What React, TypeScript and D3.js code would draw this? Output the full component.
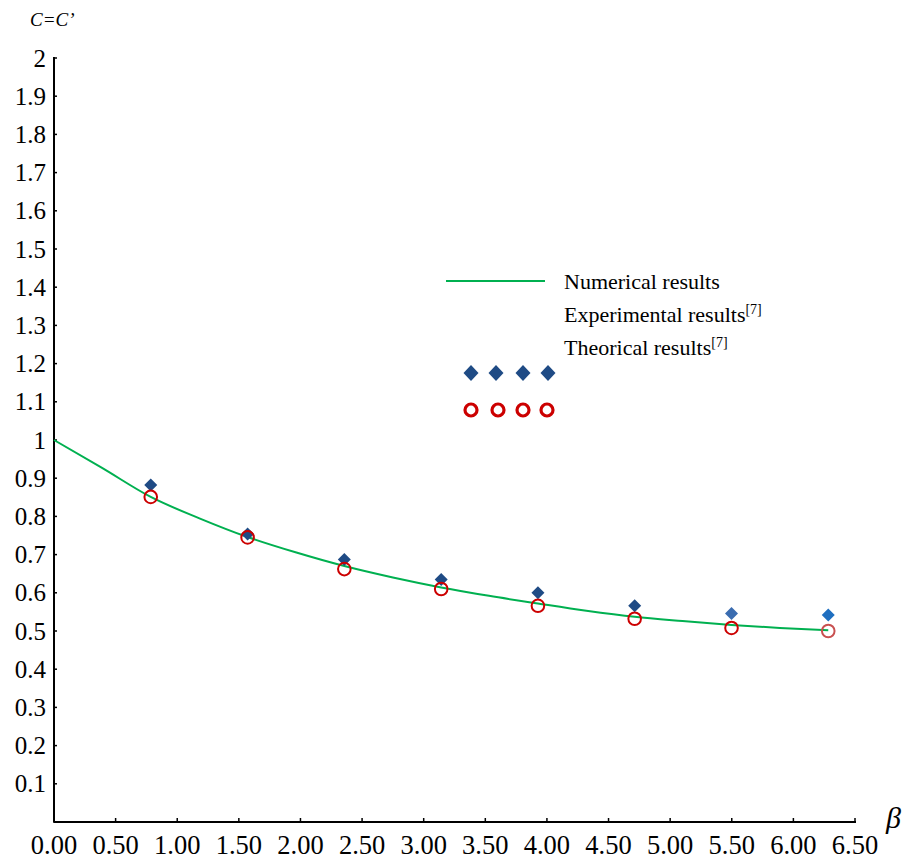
import React from "react";
import * as d3 from "d3";

const betaValues = [0.785, 1.571, 2.356, 3.142, 3.927, 4.712, 5.498, 6.283];
const experimental = [0.882, 0.754, 0.687, 0.635, 0.6, 0.566, 0.546, 0.542];
const theoretical = [0.851, 0.745, 0.662, 0.61, 0.566, 0.532, 0.508, 0.5];
const numericalX = [0, 0.39, 0.785, 1.18, 1.571, 1.96, 2.356, 2.75, 3.142, 3.53, 3.927, 4.32, 4.712, 5.1, 5.498, 5.89, 6.283];
const numericalY = [1.0, 0.927, 0.851, 0.795, 0.746, 0.706, 0.670, 0.640, 0.614, 0.592, 0.572, 0.553, 0.537, 0.526, 0.516, 0.508, 0.502];
const xTicks = [0, 0.5, 1, 1.5, 2, 2.5, 3, 3.5, 4, 4.5, 5, 5.5, 6, 6.5];
const yTicks = [0.1, 0.2, 0.3, 0.4, 0.5, 0.6, 0.7, 0.8, 0.9, 1, 1.1, 1.2, 1.3, 1.4, 1.5, 1.6, 1.7, 1.8, 1.9, 2];
const legendLabels = ["Numerical results", "Experimental results", "Theorical results"];
const legendSup = ["", "[7]", "[7]"];
const legendMarkers = [1, 2, 3, 4];

const diamondColors = ["#1f4b85", "#1f4b85", "#1f4b85", "#1f4b85", "#1f4b85", "#1f4b85", "#3a6cb0", "#1f6fc0"];
const circleColors = ["#cc0000", "#cc0000", "#cc0000", "#cc0000", "#cc0000", "#cc0000", "#cc0000", "#c85050"];

export default function App() {
  const x = d3.scaleLinear().domain([0, 6.5]).range([54, 855]);
  const y = d3.scaleLinear().domain([0, 2]).range([822, 58]);
  const line = d3
    .line<number>()
    .x((_, i) => x(numericalX[i]))
    .y((d) => y(d))
    .curve(d3.curveMonotoneX);
  const font = "'Liberation Serif', 'Times New Roman', serif";
  const dSize = 6.5;
  return (
    <svg width={911} height={863} style={{ position: "absolute", left: 0, top: 0, background: "#fff" }} fontFamily={font}>
      <rect width={911} height={863} fill="#fff" />
      <text x={30} y={26} fontSize={19} fontStyle="italic">C=C’</text>
      <line x1={54} x2={54} y1={y(2) - 1} y2={822} stroke="#000" strokeWidth={2} />
      {yTicks.map((t) => (
        <g key={t}>
          <line x1={54} x2={57} y1={y(t)} y2={y(t)} stroke="#000" strokeWidth={1.5} />
          <text x={46} y={y(t)} fontSize={25} textAnchor="end" dominantBaseline="central">
            {d3.format("")(+t.toFixed(1))}
          </text>
        </g>
      ))}
      <line x1={54} x2={x(6.5) + 1} y1={822} y2={822} stroke="#000" strokeWidth={2} />
      {xTicks.map((t) => (
        <g key={t}>
          <line x1={x(t)} x2={x(t)} y1={818} y2={823} stroke="#000" strokeWidth={1.5} />
          <text x={x(t)} y={854} fontSize={26.5} textAnchor="middle">
            {d3.format(".2f")(t)}
          </text>
        </g>
      ))}
      <text x={886} y={828} fontSize={30} fontStyle="italic">β</text>
      <path d={line(numericalY) || ""} fill="none" stroke="#00b050" strokeWidth={2} />
      {experimental.map((v, i) => (
        <path
          key={"e" + i}
          d={`M${x(betaValues[i])},${y(v) - dSize}L${x(betaValues[i]) + dSize},${y(v)}L${x(betaValues[i])},${y(v) + dSize}L${x(betaValues[i]) - dSize},${y(v)}Z`}
          fill={diamondColors[i]}
        />
      ))}
      {theoretical.map((v, i) => (
        <circle key={"t" + i} cx={x(betaValues[i])} cy={y(v)} r={6.3} fill="none" stroke={circleColors[i]} strokeWidth={2} />
      ))}
      <line x1={446} x2={545} y1={281} y2={281} stroke="#00b050" strokeWidth={2} />
      {legendLabels.map((l, i) => (
        <text key={l} x={564} y={289 + i * 33} fontSize={22}>
          {l}
          {legendSup[i] && (
            <tspan fontSize={14} dy={-8}>{legendSup[i]}</tspan>
          )}
        </text>
      ))}
      {legendMarkers.map((m, i) => {
        const cx = [471, 496, 523, 548][i];
        return (
          <path key={"ld" + m} d={`M${cx},365L${cx + 7.5},373L${cx},381L${cx - 7.5},373Z`} fill="#1f4b85" />
        );
      })}
      {legendMarkers.map((m, i) => {
        const cx = [471, 498, 523, 547][i];
        return <circle key={"lc" + m} cx={cx} cy={410} r={6} fill="none" stroke="#cc0000" strokeWidth={3.2} />;
      })}
    </svg>
  );
}
